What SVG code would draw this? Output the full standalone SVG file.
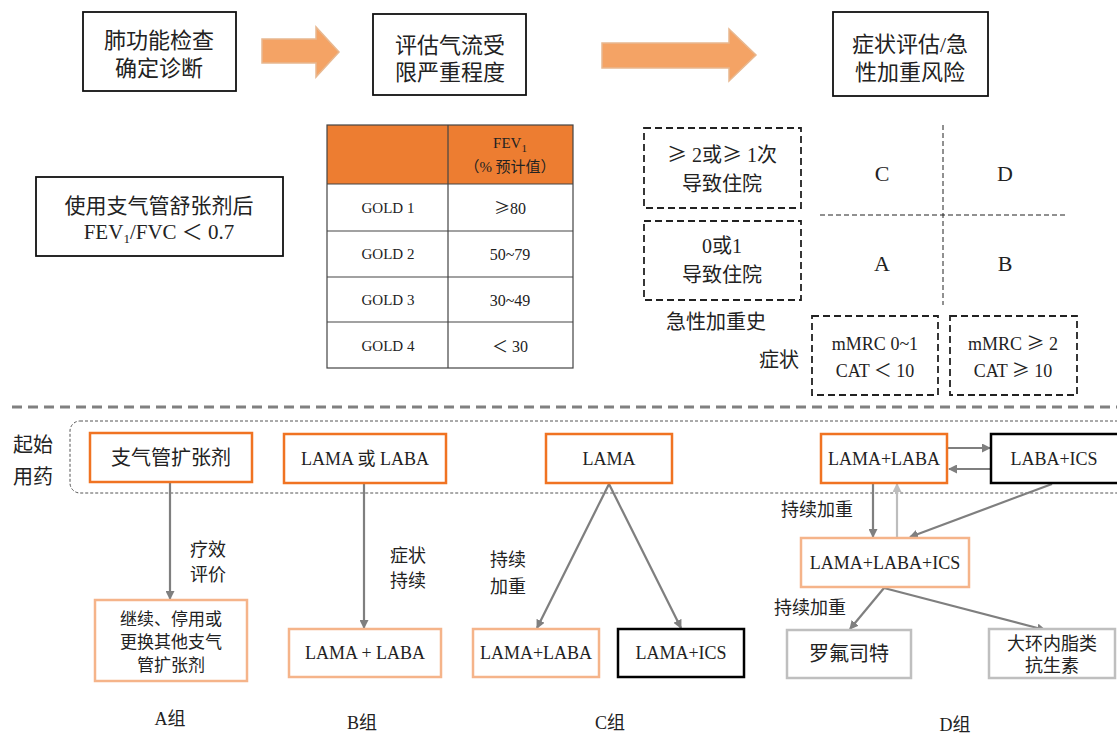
<svg xmlns="http://www.w3.org/2000/svg" width="1117" height="734" viewBox="0 0 1117 734">
<defs>
<style>
.t{font-family:"Liberation Serif","Noto Sans CJK SC",serif;fill:#222;text-anchor:middle}
.cj{font-family:"Noto Sans CJK SC",sans-serif}
.f22{font-size:22px}.f21{font-size:21px}.f20{font-size:20px}.f18{font-size:18px}.f17{font-size:17px}.f16{font-size:16px}.f15{font-size:15px}
.bk{fill:#fff;stroke:#111;stroke-width:1.8}
.og{fill:#fff;stroke:#F07322;stroke-width:2.5}
.lo{fill:#fff;stroke:#F5B48A;stroke-width:2.5}
.gy{fill:#fff;stroke:#BFBFBF;stroke-width:2.5}
.bb{fill:#fff;stroke:#000;stroke-width:2.5}
.dsh{fill:none;stroke:#222;stroke-width:1.8;stroke-dasharray:7,4}
.thin{fill:none;stroke:#222;stroke-width:1;stroke-dasharray:5,3}
.big{fill:#F4A365;stroke:#E8B890;stroke-width:1.5}
.ar{fill:none;stroke:#7F7F7F;stroke-width:2.2;marker-end:url(#ah)}
.arl{fill:none;stroke:#BDBDBD;stroke-width:2.2;marker-end:url(#ahl)}
</style>
<marker id="ah" markerWidth="9" markerHeight="9" refX="8" refY="4.5" orient="auto" markerUnits="userSpaceOnUse" viewBox="0 0 9 9"><path d="M0,0 L9,4.5 L0,9 Z" fill="#7F7F7F"/></marker>
<marker id="ahl" markerWidth="9" markerHeight="9" refX="8" refY="4.5" orient="auto" markerUnits="userSpaceOnUse" viewBox="0 0 9 9"><path d="M0,0 L9,4.5 L0,9 Z" fill="#BDBDBD"/></marker>
</defs>
<rect width="1117" height="734" fill="#fff"/>

<!-- top flow -->
<g id="n-lung"><rect class="bk" x="83" y="12" width="153" height="79"/><text class="t f22" x="159" y="48">肺功能检查</text><text class="t f22" x="159" y="76">确定诊断</text></g>
<g id="n-airflow"><rect class="bk" x="373" y="14" width="153" height="81"/><text class="t f22" x="450" y="53">评估气流受</text><text class="t f22" x="450" y="80">限严重程度</text></g>
<g id="n-risk"><rect class="bk" x="833" y="12" width="155" height="84"/><text class="t f22" x="910" y="52">症状评估/急</text><text class="t f22" x="910" y="80">性加重风险</text></g>
<g id="big-arrows">
<path class="big" d="M262,39 H316 V27 L339,52 L316,77 V63 H262 Z"/>
<path class="big" d="M602,43 H729 V29 L756,55 L729,81 V68 H602 Z"/>
</g>

<g id="n-fev"><rect class="bk" x="36" y="177" width="247" height="79"/><text class="t f21" x="159" y="213">使用支气管舒张剂后</text><text class="t f21" x="159" y="239">FEV<tspan font-size="13" dy="4">1</tspan><tspan dy="-4">/FVC ＜ 0.7</tspan></text></g>

<g id="n-table">
<rect x="327" y="125" width="246" height="59" fill="#ED7D31"/>
<rect x="327" y="125" width="246" height="243" fill="none" stroke="#444" stroke-width="1.2"/>
<path d="M448,125 V368 M327,184 H573 M327,231 H573 M327,277 H573 M327,322 H573" stroke="#444" stroke-width="1.2" fill="none"/>
<text class="t f15" x="510" y="148">FEV<tspan font-size="11" dy="4">1</tspan></text>
<text class="t f15" x="510" y="172">（% 预计值）</text>
<text class="t f15" x="388" y="213">GOLD 1</text><text class="t f16" x="510" y="214"><tspan class="cj">≥</tspan>80</text>
<text class="t f15" x="388" y="259">GOLD 2</text><text class="t f16" x="510" y="260">50~79</text>
<text class="t f15" x="388" y="305">GOLD 3</text><text class="t f16" x="510" y="306">30~49</text>
<text class="t f15" x="388" y="351">GOLD 4</text><text class="t f16" x="510" y="352">＜ 30</text>
</g>

<!-- ABCD grid -->
<g id="n-exac-high"><rect class="dsh" x="644" y="128" width="157" height="80"/><text class="t f20" x="722" y="162"><tspan class="cj">≥</tspan> 2或<tspan class="cj">≥</tspan> 1次</text><text class="t f20" x="722" y="191">导致住院</text></g>
<g id="n-exac-low"><rect class="dsh" x="644" y="221" width="157" height="79"/><text class="t f20" x="722" y="253">0或1</text><text class="t f20" x="722" y="282">导致住院</text></g>
<text class="t f20" x="716" y="329">急性加重史</text>
<g id="grid"><path class="thin" d="M943,125 V305 M820,215 H1065"/></g>
<g id="n-C"><text class="t f22" x="882" y="181">C</text></g>
<g id="n-D"><text class="t f22" x="1005" y="181">D</text></g>
<g id="n-A"><text class="t f22" x="882" y="271">A</text></g>
<g id="n-B"><text class="t f22" x="1005" y="271">B</text></g>
<text class="t f20" x="779" y="367">症状</text>
<g id="n-sym-low"><rect class="dsh" x="812" y="316" width="126" height="79"/><text class="t f18" x="875" y="350">mMRC 0~1</text><text class="t f18" x="875" y="377">CAT ＜ 10</text></g>
<g id="n-sym-high"><rect class="dsh" x="950" y="316" width="127" height="79"/><text class="t f18" x="1013" y="350">mMRC <tspan class="cj">≥</tspan> 2</text><text class="t f18" x="1013" y="377">CAT <tspan class="cj">≥</tspan> 10</text></g>

<path d="M12,407 H1117" stroke="#808080" stroke-width="3" stroke-dasharray="10,6" fill="none"/>

<!-- bottom -->
<text class="t f20" x="33" y="452">起始</text><text class="t f20" x="33" y="484">用药</text>
<rect x="70" y="421" width="1060" height="72" rx="10" fill="none" stroke="#555" stroke-width="1" stroke-dasharray="3,2"/>

<g id="connectors">
<path class="ar" d="M170,483 V599"/>
<path class="ar" d="M364,484 V628"/>
<path class="ar" d="M609,484 L537,628"/>
<path class="ar" d="M609,484 L681,628"/>
<path class="ar" d="M948,448 H990"/>
<path class="ar" d="M991,469 H949"/>
<path class="ar" d="M873,484 V537"/>
<path class="arl" d="M897,537 V484"/>
<path class="ar" d="M1052,484 L910,537"/>
<path class="ar" d="M884,588 L850,629"/>
<path class="ar" d="M884,588 L1045,630"/>
</g>

<g id="n-a0"><rect class="og" x="90" y="433" width="162" height="49"/><text class="t f20" x="171" y="465">支气管扩张剂</text></g>
<g id="n-b0"><rect class="og" x="284" y="434" width="162" height="49"/><text class="t f18" x="365" y="465">LAMA 或 LABA</text></g>
<g id="n-c0"><rect class="og" x="546" y="434" width="126" height="49"/><text class="t f18" x="609" y="465">LAMA</text></g>
<g id="n-d0"><rect class="og" x="821" y="434" width="126" height="49"/><text class="t f18" x="884" y="465">LAMA+LABA</text></g>
<g id="n-d1"><rect class="bb" x="991" y="434" width="128" height="49"/><text class="t f18" x="1054" y="465">LABA+ICS</text></g>

<text class="t f18" x="208" y="556">疗效</text><text class="t f18" x="208" y="581">评价</text>
<text class="t f18" x="408" y="562">症状</text><text class="t f18" x="408" y="587">持续</text>
<text class="t f18" x="508" y="566">持续</text><text class="t f18" x="508" y="593">加重</text>
<text class="t f18" x="817" y="516">持续加重</text>
<text class="t f18" x="810" y="614">持续加重</text>

<g id="n-a1"><rect class="lo" x="95" y="600" width="152" height="81"/><text class="t f17" x="171" y="625">继续、停用或</text><text class="t f17" x="171" y="648">更换其他支气</text><text class="t f17" x="171" y="671">管扩张剂</text></g>
<g id="n-b1"><rect class="lo" x="289" y="629" width="152" height="48"/><text class="t f18" x="365" y="659">LAMA + LABA</text></g>
<g id="n-c1"><rect class="lo" x="473" y="629" width="126" height="48"/><text class="t f18" x="536" y="659">LAMA+LABA</text></g>
<g id="n-c2"><rect class="bb" x="618" y="629" width="126" height="48"/><text class="t f18" x="681" y="659">LAMA+ICS</text></g>
<g id="n-d2"><rect class="lo" x="801" y="538" width="168" height="49"/><text class="t f18" x="885" y="569">LAMA+LABA+ICS</text></g>
<g id="n-d3"><rect class="gy" x="787" y="630" width="124" height="48"/><text class="t f20" x="849" y="661">罗氟司特</text></g>
<g id="n-d4"><rect class="gy" x="989" y="629" width="126" height="49"/><text class="t f18" x="1052" y="650">大环内脂类</text><text class="t f18" x="1052" y="672">抗生素</text></g>

<text class="t f18" x="170" y="725">A组</text>
<text class="t f18" x="362" y="729">B组</text>
<text class="t f18" x="610" y="729">C组</text>
<text class="t f18" x="955" y="731">D组</text>
</svg>
